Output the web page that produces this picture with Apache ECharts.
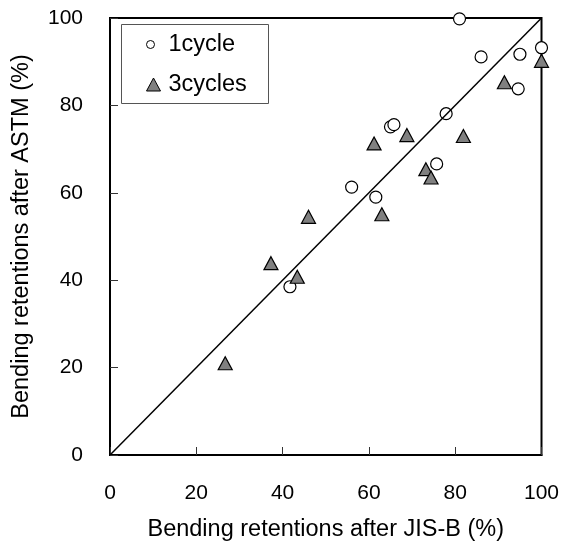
<!DOCTYPE html>
<html>
<head>
<meta charset="utf-8">
<script src="https://cdn.jsdelivr.net/npm/echarts@6/dist/echarts.min.js"></script>
<style>
html,body{margin:0;padding:0;background:#fff;}
#chart{width:563px;height:553px;}
</style>
</head>
<body>
<div id="chart"></div>
<script>
// Data
const cycle1X = [81, 86, 95, 100, 94.6, 77.9, 65.0, 65.8, 75.7, 56.0, 61.6, 41.7];
const cycle1Y = [99.8, 91.1, 91.7, 93.2, 83.8, 78.1, 75.1, 75.6, 66.6, 61.3, 59.0, 38.5];
const cycle3X = [100, 91.4, 68.8, 81.9, 61.2, 73.2, 74.4, 63.0, 46.0, 37.3, 43.4, 26.7];
const cycle3Y = [90.2, 85.3, 73.2, 73.0, 71.3, 65.4, 63.5, 55.1, 54.5, 43.9, 40.8, 21.0];
const lineX = [0, 100];
const lineY = [0, 100];
const seriesNames = ['1cycle', '3cycles'];
const xTitle = 'Bending retentions after JIS-B (%)';
const yTitle = 'Bending retentions after ASTM (%)';

const zip = (a, b) => a.map((v, i) => [v, b[i]]);
const FONT = '"Liberation Sans", Arial, sans-serif';

const chart = echarts.init(document.getElementById('chart'), null, {renderer: 'canvas'});
const axisCommon = {
  type: 'value', min: 0, max: 100, interval: 20,
  nameLocation: 'middle',
  nameTextStyle: {fontFamily: FONT, fontSize: 23.5, color: '#000'},
  axisLine: {show: true, lineStyle: {color: '#000', width: 2}},
  axisTick: {show: true, inside: true, length: 8, lineStyle: {color: '#333', width: 1}},
  axisLabel: {fontFamily: FONT, fontSize: 21, color: '#000'},
  splitLine: {show: false}
};
chart.setOption({
  backgroundColor: '#fff',
  animation: false,
  grid: {left: 110, top: 18, right: 21.5, bottom: 98, show: true, borderColor: '#000', borderWidth: 2, backgroundColor: 'transparent'},
  xAxis: Object.assign({}, axisCommon, {name: xTitle, nameGap: 63, axisLabel: Object.assign({}, axisCommon.axisLabel, {margin: 28})}),
  yAxis: Object.assign({}, axisCommon, {name: yTitle, nameGap: 76, axisLabel: Object.assign({}, axisCommon.axisLabel, {margin: 27})}),
  legend: [
    {data: [{name: seriesNames[0], icon: 'circle'}], left: 146, top: 32.5, padding: 0, itemWidth: 8, itemHeight: 8, symbolKeepAspect: true,
     textStyle: {fontFamily: FONT, fontSize: 23.5, color: '#000', padding: [0, 0, 0, 9]}, itemStyle: {color: '#fff', borderColor: '#000', borderWidth: 1}},
    {data: [{name: seriesNames[1], icon: 'triangle'}], left: 146, top: 72.5, padding: 0, itemWidth: 14, itemHeight: 13, symbolKeepAspect: true,
     textStyle: {fontFamily: FONT, fontSize: 23.5, color: '#000', padding: [0, 0, 0, 3]}, itemStyle: {color: '#808080', borderColor: '#000', borderWidth: 1}}
  ],
  graphic: [{type: 'rect', left: 121, top: 24, shape: {width: 147, height: 79}, style: {fill: 'transparent', stroke: '#555', lineWidth: 1}, z: 100}],
  series: [
    {name: 'diag', type: 'line', data: zip(lineX, lineY), symbol: 'none', lineStyle: {color: '#000', width: 1.5}, z: 5, silent: true},
    {name: seriesNames[0], type: 'scatter', data: zip(cycle1X, cycle1Y), symbol: 'circle', symbolSize: 12,
     itemStyle: {color: '#fff', borderColor: '#000', borderWidth: 1.2, opacity: 1}, z: 3},
    {name: seriesNames[1], type: 'scatter', data: zip(cycle3X, cycle3Y), symbol: 'triangle', symbolSize: [14, 13],
     itemStyle: {color: '#808080', borderColor: '#000', borderWidth: 1.2, opacity: 1}, z: 3}
  ]
});
</script>
</body>
</html>
